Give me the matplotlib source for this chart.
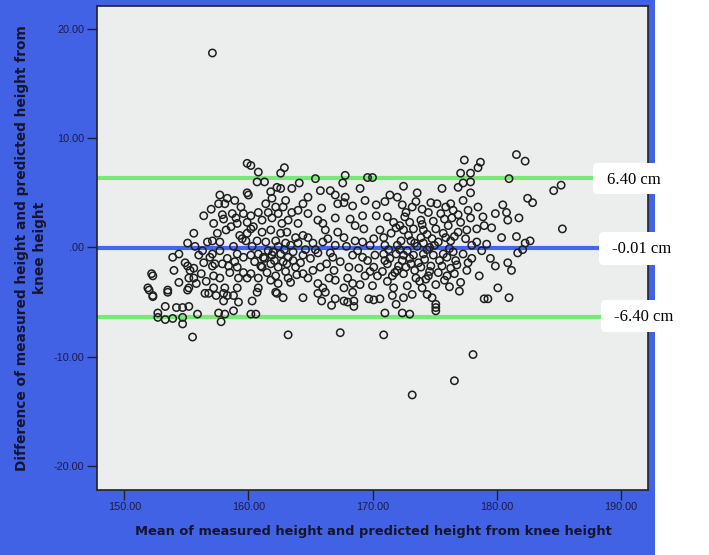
import matplotlib
matplotlib.use("Agg")
import matplotlib.pyplot as plt
from matplotlib.patches import Rectangle, FancyBboxPatch

# Bland-Altman values
mean_diff = -0.01
loa_upper = 6.40
loa_lower = -6.40
x_ticks = [150, 160, 170, 180, 190]
y_ticks = [-20, -10, 0, 10, 20]
line_labels = ["6.40 cm", "-0.01 cm", "-6.40 cm"]

# (mean, difference) pairs, grouped by region of the plot
outliers = [(157.1, 17.8), (173.2, -13.5), (176.6, -12.2), (178.1, -9.8), (170.9, -8.0),
            (163.2, -8.0), (167.4, -7.8), (155.5, -8.2), (185.3, 1.7), (185.2, 5.7), (184.6, 5.2)]

upper_points = [
    (181.6, 8.5), (182.3, 7.9), (181.0, 6.3), (182.5, 4.5), (182.9, 4.1), (180.5, 3.9), (180.8, 3.2),
    (180.9, 2.5), (181.8, 2.7), (181.6, 1.0), (182.7, 0.6), (182.3, 0.4), (179.9, 3.1), (180.4, 0.9),
    (177.4, 8.0), (178.7, 7.8), (178.5, 7.3), (177.1, 6.8), (177.9, 6.8), (177.3, 5.9), (177.9, 6.0),
    (170.0, 6.4), (172.5, 5.6), (173.6, 5.0), (172.0, 4.6), (171.0, 4.2), (170.3, 3.9), (170.3, 2.9),
    (172.4, 3.9), (173.2, 3.7), (172.7, 3.2), (174.7, 4.1), (175.2, 4.0), (176.3, 4.0), (176.5, 3.4),
    (177.3, 4.3), (177.9, 5.0), (177.7, 3.4), (178.5, 3.7), (178.9, 2.8), (177.9, 2.7), (174.5, 3.2),
    (175.5, 3.1), (173.9, 2.5), (171.7, 2.3), (176.1, 2.0), (177.1, 2.3), (178.4, 1.7), (171.5, 1.3),
    (172.5, 1.6), (173.3, 1.7), (174.1, 1.6), (175.1, 1.7), (174.8, 0.8), (175.7, 1.3), (176.9, 1.4),
    (177.5, 0.8), (178.4, 0.5), (170.1, 0.8), (170.9, 0.9), (172.3, 0.6), (173.1, 0.6), (173.9, 0.9),
    (174.1, 0.4), (176.3, 0.6),
    (162.9, 7.3), (162.6, 6.8), (160.8, 6.9), (167.8, 6.6), (167.6, 5.9), (169.6, 6.4), (160.7, 6.0),
    (161.3, 6.0), (161.8, 5.1), (162.3, 5.5), (162.6, 5.4), (163.5, 5.4), (165.8, 5.2), (166.6, 5.2),
    (167.0, 4.8), (167.8, 4.6), (167.7, 4.1), (168.4, 3.8), (169.4, 4.3), (164.8, 4.6), (164.4, 4.0),
    (167.2, 4.0), (163.0, 4.3), (161.9, 4.5), (161.4, 4.0), (162.2, 3.7), (162.8, 3.7), (160.8, 3.2),
    (161.6, 3.2), (162.4, 3.1), (163.5, 3.2), (164.0, 3.4), (164.8, 3.1), (165.6, 2.5), (166.0, 2.2),
    (167.0, 2.7), (169.2, 2.9), (168.6, 2.0), (169.3, 1.7), (161.1, 2.5), (161.9, 2.7), (162.7, 2.2),
    (163.2, 2.5), (164.0, 2.2), (164.4, 1.1), (164.8, 0.9), (163.8, 0.9), (163.1, 1.4), (162.6, 1.3),
    (161.8, 1.6), (161.1, 1.4), (166.2, 1.6), (166.4, 0.8), (166.0, 0.5), (167.7, 0.9), (168.6, 0.6),
    (169.2, 0.5), (160.7, 0.6), (161.4, 0.5), (162.2, 0.6), (163.0, 0.4), (164.0, 0.4), (165.2, 0.4),
    (159.9, 7.7), (160.2, 7.5), (159.9, 5.0), (160.0, 4.8), (157.7, 4.8), (158.3, 4.5), (157.6, 4.0),
    (158.1, 4.0), (157.9, 3.0), (158.7, 3.1), (159.4, 3.7), (159.0, 2.7), (159.1, 2.2), (159.6, 3.1),
    (159.9, 2.3), (160.2, 2.9), (160.2, 1.7), (159.9, 1.3), (159.5, 0.8), (159.8, 0.6), (158.2, 1.6),
    (157.5, 1.3), (155.6, 1.3), (156.7, 0.5), (157.1, 0.6), (157.7, 0.5), (155.1, 0.4), (155.7, 0.1),
]

lower_points = [
    (181.7, -0.5), (182.1, -0.2), (179.5, -1.0), (179.9, -1.7), (180.9, -1.4), (181.2, -2.1), (180.1, -3.7),
    (170.2, -0.7), (170.9, -0.6), (171.9, -0.6), (172.5, -0.7), (173.3, -0.7), (174.1, -0.6), (174.9, -0.7),
    (175.7, -0.6), (176.5, -0.4), (177.7, -1.4), (176.7, -1.2), (170.1, -1.8), (171.2, -1.5), (172.1, -1.7),
    (173.1, -1.5), (173.9, -1.8), (174.7, -1.7), (175.6, -1.7), (176.3, -1.9), (170.4, -2.6), (171.6, -2.6),
    (172.5, -2.4), (173.5, -2.8), (174.5, -2.6), (175.3, -2.3), (177.1, -3.2), (170.0, -3.5), (171.7, -3.7),
    (172.8, -3.5), (174.0, -3.7),
    (160.8, -0.6), (161.2, -0.9), (161.9, -0.7), (162.6, -0.6), (163.2, -0.9), (164.4, -0.7), (165.0, -1.0),
    (166.8, -0.9), (168.4, -0.7), (169.2, -0.9), (161.0, -1.7), (161.1, -1.8), (161.8, -1.5), (162.4, -1.8),
    (163.1, -1.5), (163.8, -1.8), (165.8, -1.8), (168.1, -1.8), (168.9, -1.9), (160.8, -2.8), (162.2, -2.6),
    (163.2, -2.8), (164.4, -2.4), (164.8, -2.8), (166.5, -2.8), (167.0, -3.0), (168.0, -2.8), (160.8, -3.7),
    (162.4, -3.3), (163.4, -3.2), (165.6, -3.3), (166.0, -3.7), (167.7, -3.7), (168.4, -3.3),
    (156.0, -0.7), (157.1, -0.6), (156.9, -0.9), (157.7, -0.3), (158.3, -1.0), (159.1, -0.6), (159.6, -0.9),
    (160.2, -0.7), (154.9, -1.4), (155.1, -1.7), (155.3, -2.1), (155.6, -1.9), (157.1, -1.7), (157.3, -1.5),
    (157.9, -1.5), (158.4, -1.7), (159.1, -1.8), (159.6, -2.3), (160.2, -2.4), (155.2, -2.8), (155.6, -2.8),
    (157.2, -2.6), (157.7, -2.8), (158.5, -2.3), (159.2, -2.8), (159.9, -2.8), (152.3, -2.6), (152.2, -2.4),
    (151.9, -3.7), (153.5, -3.9), (155.2, -3.7), (157.2, -3.7), (158.1, -3.7), (159.1, -3.7),
    (152.3, -4.4), (153.5, -4.1), (155.1, -3.9), (156.5, -4.2), (156.8, -4.2), (157.4, -4.4), (158.0, -4.2),
    (158.3, -4.4), (158.8, -4.4), (158.0, -4.9), (159.2, -5.0), (160.3, -4.9), (153.3, -5.4), (154.2, -5.5),
    (154.7, -5.5), (155.2, -5.4), (152.7, -6.0), (152.7, -6.4), (153.3, -6.6), (153.9, -6.5), (154.7, -6.4),
    (154.7, -7.0), (155.9, -6.1), (157.6, -6.0), (158.1, -6.1), (157.8, -6.8), (158.8, -5.8), (160.2, -6.1),
    (160.7, -4.1), (162.2, -4.1), (162.8, -4.6), (164.4, -4.6), (165.6, -4.2), (165.9, -4.9), (166.2, -4.1),
    (166.7, -5.3), (167.0, -4.7), (167.7, -4.9), (168.0, -5.0), (168.4, -4.1), (168.5, -4.9), (168.5, -5.4),
    (169.7, -4.7), (160.6, -6.1), (162.3, -4.2),
    (170.1, -4.8), (170.6, -4.7), (171.6, -4.4), (171.9, -5.2), (172.5, -4.6), (171.0, -6.0), (172.4, -6.0),
    (173.0, -6.1), (174.4, -4.3), (179.0, -4.7), (175.1, -5.2), (175.1, -5.5), (175.1, -5.8), (179.3, -4.7),
    (181.0, -4.6), (152.0, -3.9), (152.3, -4.5),
]

dense_points = [
    (171.3, -0.2), (172.0, 0.2), (172.8, -0.3), (173.6, 0.1), (174.4, -0.2), (175.0, 0.2), (173.0, -1.0),
    (174.2, -1.1), (172.4, -1.2), (171.4, -1.0), (175.4, -1.2), (176.0, -0.9), (173.4, -2.1), (174.6, -2.2),
    (172.0, -2.1), (170.8, -2.2), (176.6, -2.4), (173.8, -3.1), (175.8, -3.0), (171.2, -3.1), (175.9, 0.9),
    (174.4, 1.2), (172.9, 1.1), (171.9, 1.8), (176.6, 1.0), (174.0, 2.1), (172.6, 2.8), (175.8, 2.6),
    (161.6, -0.3), (162.9, -0.2), (163.6, -1.2), (162.1, -1.2), (160.5, -1.3), (164.2, -1.4), (161.5, -2.3),
    (163.0, -2.2), (165.2, -2.1), (160.3, 0.1), (162.4, 0.1), (163.6, -0.4), (165.6, -0.5), (167.4, -1.3),
    (166.3, -1.5), (169.6, -1.2), (169.4, -2.6), (169.0, -3.4), (169.8, 0.2), (167.0, 0.2), (166.9, -2.1),
    (158.8, 0.1), (158.9, -1.3), (156.4, -1.4), (156.2, -2.4), (156.6, -3.1), (154.4, -3.2), (154.0, -2.1),
    (153.9, -0.9), (179.2, 0.3), (178.8, -0.3), (179.6, 1.8), (179.0, 2.0), (178.0, -1.0), (177.6, -2.1),
    (178.6, -2.6), (177.0, -4.0), (176.2, -3.6), (173.2, -4.3), (174.8, -4.6), (171.4, 4.8), (175.6, 5.4),
    (176.9, 5.5), (169.0, 5.4), (165.4, 6.3), (164.1, 5.9),
    (157.2, 2.2), (158.0, 2.6), (158.6, 1.9), (157.0, 3.5), (156.4, 2.9), (158.9, 4.3), (159.3, 1.1),
    (155.8, -3.3), (156.3, -0.3), (154.4, -0.6), (160.4, 1.9), (161.3, -1.0), (162.0, -0.4), (163.4, 0.2),
    (162.8, -1.3), (164.6, -0.2), (163.9, -2.5), (161.8, -3.0), (171.0, -1.2), (171.8, -2.3), (172.7, -1.8),
    (173.7, -1.4), (174.3, -2.9), (175.1, -3.4), (176.0, -2.6), (176.8, -1.6), (177.3, -0.6), (176.2, -0.1),
    (175.3, 0.5), (174.6, 0.0), (173.4, 0.4), (172.2, -0.2), (171.0, 0.2), (170.6, 1.6), (171.2, 2.8),
    (172.2, 2.0), (173.0, 2.3), (174.9, 2.4), (176.4, 2.7), (177.6, 1.6), (178.0, 0.2), (176.9, 3.0),
    (175.9, 3.7), (174.0, 3.5), (173.5, 4.2), (165.4, -0.2), (166.6, -0.5), (167.9, 0.1), (168.8, -0.3),
    (167.2, 1.4), (168.2, 2.6), (169.8, -2.2), (165.9, 3.6),
]

all_points = outliers + upper_points + lower_points + dense_points
mean_height = [p[0] for p in all_points]
diff_height = [p[1] for p in all_points]

W, H = 709, 555
BLUE = "#4262e6"
fig = plt.figure(figsize=(W / 100, H / 100), dpi=100)
fig.patch.set_facecolor("white")
fig.patches.append(Rectangle((0, 0), 655 / W, 1, transform=fig.transFigure,
                             facecolor=BLUE, edgecolor="none", zorder=-10))


def fig_box(left, top, right, bottom):
    # pixel box (top-left origin) -> figure fraction
    return [left / W, 1 - bottom / H, (right - left) / W, (bottom - top) / H]


ax = fig.add_axes(fig_box(97, 6, 648, 490))
ax.set_zorder(1)
ax.set_facecolor("#eceeed")
ax.scatter(mean_height, diff_height, s=28, facecolors="none",
           edgecolors="#1e1e1e", linewidths=1.1, zorder=3)

ax.axhline(loa_upper, color="#78e878", lw=3, zorder=2)
ax.axhline(loa_lower, color="#78e878", lw=3, zorder=2)
ax.axhline(mean_diff, color="#4466ee", lw=3, zorder=2)

ax.set_xlim(147.8, 192.2)
ax.set_ylim(-22.2, 22.1)
ax.set_xticks(x_ticks)
ax.set_yticks(y_ticks)
ax.set_xticklabels(["%.2f" % v for v in x_ticks])
ax.set_yticklabels([".00" if v == 0 else "%.2f" % v for v in y_ticks])
tick_col = "#1c1c48"
ax.tick_params(length=7, width=1, color="#222222", pad=2, labelsize=7.8,
               labelcolor=tick_col)
for lab in ax.get_xticklabels() + ax.get_yticklabels():
    lab.set_family("Liberation Sans")
for sp in ax.spines.values():
    sp.set_color("#222222")
    sp.set_linewidth(1.2)

fig.text(373 / W, 1 - 532 / H,
         "Mean of measured height and predicted height from knee height",
         ha="center", va="center", fontsize=9.4, fontweight="bold", color="#15152e")
fig.text(31 / W, 1 - 248 / H,
         "Difference of measured height and predicted height from\nknee height",
         ha="center", va="center", rotation=90, fontsize=9.9, fontweight="bold",
         color="#15152e", linespacing=1.3, multialignment="center")

# white label boxes at the right end of each line, drawn above the axes
overlay = fig.add_axes([0, 0, 1, 1], facecolor="none")
overlay.set_zorder(5)
overlay.set_axis_off()
overlay.set_xlim(0, W)
overlay.set_ylim(H, 0)
boxes = [(593, 163, 194, 607, 180), (599, 232, 265, 612, 249), (601, 300, 332, 614, 317)]
for (bl, bt, bb, tx, ty), label in zip(boxes, line_labels):
    overlay.add_patch(FancyBboxPatch((bl, bt), 730 - bl, bb - bt,
                                     boxstyle="round,pad=0,rounding_size=5",
                                     facecolor="white", edgecolor="none"))
    overlay.text(tx, ty, label, ha="left", va="center", fontsize=12,
                 family="Liberation Serif", color="black")

fig.savefig("out.png", dpi=100)
